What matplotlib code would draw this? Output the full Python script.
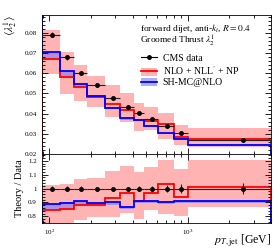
import numpy as np
import matplotlib
matplotlib.use("Agg")
import matplotlib.pyplot as plt
from matplotlib.lines import Line2D
from matplotlib.patches import Patch
from matplotlib.ticker import MultipleLocator, FuncFormatter, LogLocator, NullFormatter

plt.rcParams['font.family'] = ['Liberation Serif', 'DejaVu Serif']
plt.rcParams['mathtext.fontset'] = 'stix'

# pT bin edges [GeV]
edges = [88, 120, 150, 186, 254, 326, 408, 481, 614, 800, 1000, 4000]
# MC line also has the bin below (off the chart on the left)
edges_mc = [65] + edges

# CMS data, <lambda_2^1>
data = [0.0793, 0.0680, 0.0602, 0.0544, 0.0478, 0.0433, 0.0403, 0.0373, 0.0336, 0.0303, 0.0270]
data_err = [0.0012, 0.0013, 0.0009, 0.0005, 0.0005, 0.0005, 0.0006, 0.0007, 0.0008, 0.0010, 0.0011]

# NLO + NLL' + NP central and uncertainty band
nlo = [0.0672, 0.0580, 0.0530, 0.0481, 0.0446, 0.0420, 0.0368, 0.0361, 0.0348, 0.0284, 0.0273]
nlo_lo = [0.0598, 0.0499, 0.0465, 0.0431, 0.0381, 0.0356, 0.0315, 0.0316, 0.0275, 0.0242, 0.0235]
nlo_hi = [0.0814, 0.0704, 0.0643, 0.0585, 0.0540, 0.0502, 0.0451, 0.0431, 0.0405, 0.0345, 0.0326]

# SH-MC@NLO
mc = [0.0950, 0.0704, 0.0610, 0.0547, 0.0489, 0.0430, 0.0376, 0.0368, 0.0339, 0.0304, 0.0275, 0.0245]
mc_lo = [0.0930, 0.0677, 0.0585, 0.0530, 0.0478, 0.0421, 0.0370, 0.0362, 0.0334, 0.0299, 0.0271, 0.0242]
mc_hi = [0.0955, 0.0707, 0.0613, 0.0549, 0.0491, 0.0432, 0.0378, 0.0370, 0.0341, 0.0306, 0.0277, 0.0247]

edges = np.array(edges, dtype=float)
edges_mc = np.array(edges_mc, dtype=float)
data = np.array(data)
data_err = np.array(data_err)
nlo, nlo_lo, nlo_hi = np.array(nlo), np.array(nlo_lo), np.array(nlo_hi)
mc, mc_lo, mc_hi = np.array(mc), np.array(mc_lo), np.array(mc_hi)

centers = 0.5 * (edges[1:] + edges[:-1])
xerr = [centers - edges[:-1], edges[1:] - centers]

red = '#ff0000'
red_band = '#ffa0a0'
blue = '#0000ff'
blue_band = '#7878ff'

fig = plt.figure(figsize=(2.8, 2.5), dpi=100)
gs = fig.add_gridspec(2, 1, height_ratios=[2, 1], hspace=0,
                      left=0.149, right=0.968, top=0.94, bottom=0.107)
ax = fig.add_subplot(gs[0])
rx = fig.add_subplot(gs[1], sharex=ax)

# --- main panel
ax.stairs(nlo_hi, edges, baseline=nlo_lo, fill=True, color=red_band, alpha=0.8, lw=0)
ax.stairs(mc_hi, edges_mc, baseline=mc_lo, fill=True, color=blue_band, alpha=0.6, lw=0)
ax.stairs(nlo, edges, color=red, lw=1.3)
ax.stairs(mc, edges_mc, color=blue, lw=1.3)
ax.errorbar(centers, data, xerr=xerr, yerr=data_err, fmt='o', ms=2.5, color='black',
            ecolor='#222222', elinewidth=0.8, capsize=0, zorder=5)

ax.set_xscale('log')
ax.set_xlim(88, 4000)
ax.set_ylim(0.02, 0.089)
ax.yaxis.set_major_locator(MultipleLocator(0.01))
ax.yaxis.set_minor_locator(MultipleLocator(0.002))
ax.yaxis.set_major_formatter(FuncFormatter(lambda v, p: '%g' % round(v, 3)))
ax.set_ylabel(r'$\langle\lambda_2^1\rangle$', fontsize=8, loc='top', labelpad=4)
plt.setp(ax.get_xticklabels(which='both'), visible=False)

ax.text(0.43, 0.905, r'forward dijet, anti-$k_t$, $R=0.4$', transform=ax.transAxes,
        fontsize=6.8, va='center', ha='left')
ax.text(0.43, 0.815, r'Groomed Thrust $\lambda_2^1$', transform=ax.transAxes,
        fontsize=6.8, va='center', ha='left')

h_data = Line2D([], [], color='black', marker='o', ms=2.5, lw=0.8)
h_nlo = (Patch(color=red_band, alpha=0.8, lw=0), Line2D([], [], color=red, lw=1.3))
h_mc = (Patch(color=blue_band, alpha=0.6, lw=0), Line2D([], [], color=blue, lw=1.3))
ax.legend([h_data, h_nlo, h_mc], ['CMS data', r"NLO + NLL$'$ + NP", 'SH-MC@NLO'],
          loc='upper left', bbox_to_anchor=(0.43, 0.73), frameon=False, fontsize=7,
          handlelength=1.6, handleheight=0.9, handletextpad=0.6, labelspacing=0.12,
          borderpad=0.1, borderaxespad=0)

# --- ratio panel
rx.stairs(nlo_hi / data, edges, baseline=nlo_lo / data, fill=True, color=red_band, alpha=0.8, lw=0)
rx.stairs(mc_hi[1:] / data, edges, baseline=mc_lo[1:] / data, fill=True, color=blue_band, alpha=0.6, lw=0)
rx.stairs(nlo / data, edges, color=red, lw=1.3)
rx.stairs(mc[1:] / data, edges, color=blue, lw=1.3)
rx.errorbar(centers, data / data, xerr=xerr, yerr=data_err / data, fmt='o', ms=2.5, color='black',
            ecolor='#222222', elinewidth=0.8, capsize=0, zorder=5)
rx.set_ylim(0.75, 1.25)
rx.yaxis.set_major_locator(MultipleLocator(0.1))
rx.yaxis.set_minor_locator(MultipleLocator(0.02))
rx.yaxis.set_major_formatter(FuncFormatter(lambda v, p: '%g' % round(v, 2)))
rx.set_ylabel('Theory / Data', fontsize=7.5, labelpad=3)
rx.set_xlabel(r'$p_{T,\mathrm{jet}}$ [GeV]', fontsize=8.5, ha='right', va='center')
rx.xaxis.set_label_coords(1.0, -0.26)
rx.xaxis.set_major_locator(LogLocator(base=10))
rx.xaxis.set_minor_locator(LogLocator(base=10, subs=np.arange(2, 10)))
rx.xaxis.set_minor_formatter(NullFormatter())

for a in (ax, rx):
    a.tick_params(which='both', direction='in', top=True, right=True, labelsize=5, width=0.6)
    a.tick_params(which='major', length=4)
    a.tick_params(which='minor', length=2)
    for s in a.spines.values():
        s.set_linewidth(0.6)

fig.savefig('out.png', dpi=100)
